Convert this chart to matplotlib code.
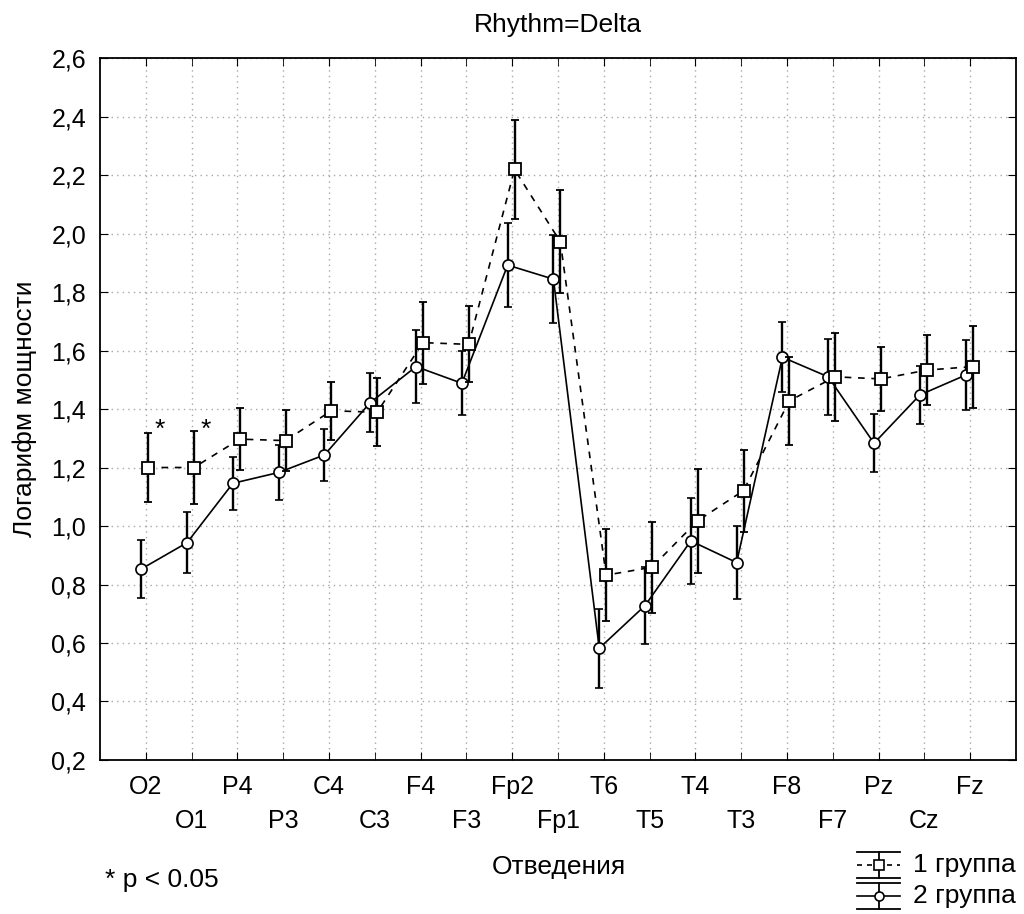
import matplotlib
matplotlib.use("Agg")
import matplotlib.pyplot as plt
from matplotlib.lines import Line2D
import numpy as np

plt.rcParams['font.family'] = ['Liberation Sans', 'DejaVu Sans']

leads = ['O2', 'O1', 'P4', 'P3', 'C4', 'C3', 'F4', 'F3', 'Fp2', 'Fp1',
         'T6', 'T5', 'T4', 'T3', 'F8', 'F7', 'Pz', 'Cz', 'Fz']
group1 = [1.20, 1.20, 1.297, 1.292, 1.394, 1.389, 1.627, 1.621, 2.219, 1.972,
          0.832, 0.859, 1.018, 1.121, 1.428, 1.510, 1.503, 1.533, 1.545]
group1_err = [0.117, 0.125, 0.107, 0.104, 0.100, 0.117, 0.140, 0.130, 0.170, 0.177,
              0.157, 0.155, 0.178, 0.140, 0.150, 0.150, 0.110, 0.120, 0.140]
group2 = [0.853, 0.943, 1.146, 1.183, 1.243, 1.422, 1.545, 1.488, 1.892, 1.844,
          0.582, 0.728, 0.949, 0.875, 1.577, 1.510, 1.283, 1.448, 1.516]
group2_err = [0.100, 0.104, 0.090, 0.094, 0.090, 0.100, 0.125, 0.110, 0.143, 0.150,
              0.135, 0.132, 0.148, 0.125, 0.120, 0.130, 0.100, 0.100, 0.120]
signif_leads = ['O2', 'O1']
series_names = ['1 группа', '2 группа']
yticks = [0.2, 0.4, 0.6, 0.8, 1.0, 1.2, 1.4, 1.6, 1.8, 2.0, 2.2, 2.4, 2.6]

fs_tick = 18
fs = 19
W, H = 1024, 914
fig = plt.figure(figsize=(W / 100, H / 100), dpi=100)
ax = fig.add_axes([0.0977, 0.1685, 0.9922 - 0.0977, 0.9365 - 0.1685])

x = np.arange(len(leads))
ax.errorbar(x + 0.05, group1, yerr=group1_err, color='black', lw=1.2,
            ls=(0, (4, 4)), marker='s', ms=8.5, mfc='white', mec='black',
            mew=1.3, elinewidth=1.7, capsize=3, capthick=1.3, zorder=4)
ax.errorbar(x - 0.1, group2, yerr=group2_err, color='black', lw=1.2,
            ls='-', marker='o', ms=8, mfc='white', mec='black',
            mew=1.2, elinewidth=1.7, capsize=3, capthick=1.3, zorder=3)

for name in signif_leads:
    i = leads.index(name)
    ax.text(i + 0.3, group1[i] + 0.13, '*', fontsize=fs, ha='center',
            va='center', color='black')

ax.set_xlim(-1, len(leads))
ax.set_ylim(0.2, 2.6)
ax.set_yticks(yticks)
ax.set_yticklabels([f'{v:.1f}'.replace('.', ',') for v in yticks], fontsize=fs_tick)

ax.set_xticks(x[::2])
ax.set_xticklabels(leads[::2], fontsize=fs_tick)
ax.set_xticks(x[1::2], minor=True)
ax.set_xticklabels(leads[1::2], minor=True, fontsize=fs_tick)
ax.tick_params(axis='x', which='major', direction='in', length=6, pad=11,
               top=True)
ax.tick_params(axis='x', which='minor', direction='in', length=6, pad=35,
               top=True)
ax.tick_params(axis='y', direction='in', length=6, pad=10, right=True)

ax.grid(True, which='both', axis='x', ls=(0, (1, 3)), color='#a8a8a8', lw=1)
ax.grid(True, which='major', axis='y', ls=(0, (1, 3)), color='#a8a8a8', lw=1)
ax.set_axisbelow(True)
for s in ax.spines.values():
    s.set_linewidth(1.3)

ax.set_title('Rhythm=Delta', fontsize=fs, pad=19)
ax.set_ylabel('Логарифм мощности', fontsize=fs, labelpad=10)
fig.text(559 / W, 1 - 867 / H, 'Отведения', fontsize=fs, ha='center', va='center')
fig.text(105 / W, 1 - 880 / H, '* p < 0.05', fontsize=fs, ha='left', va='center')

# legend drawn in Statistica style: caps spanning the symbol width
def legend_entry(yc, marker, ms, ls, label):
    x0, x1 = 857 / W, 900 / W
    xm = (x0 + x1) / 2
    yt, yb = 1 - (yc - 13) / H, 1 - (yc + 13) / H
    y = 1 - yc / H
    for yy in (yt, yb):
        fig.add_artist(Line2D([x0, x1], [yy, yy], color='black', lw=1.3))
    fig.add_artist(Line2D([xm, xm], [yb, yt], color='black', lw=1.3))
    fig.add_artist(Line2D([x0, x1], [y, y], color='black', lw=1.2, ls=ls))
    fig.add_artist(Line2D([xm], [y], marker=marker, ms=ms, mfc='white',
                          mec='black', mew=1.2, ls='none'))
    fig.text(913 / W, y, label, fontsize=fs, ha='left', va='center')

legend_entry(865, 's', 7, (0, (3, 3)), series_names[0])
legend_entry(896, 'o', 6.5, '-', series_names[1])

fig.savefig('out.png', dpi=100)
